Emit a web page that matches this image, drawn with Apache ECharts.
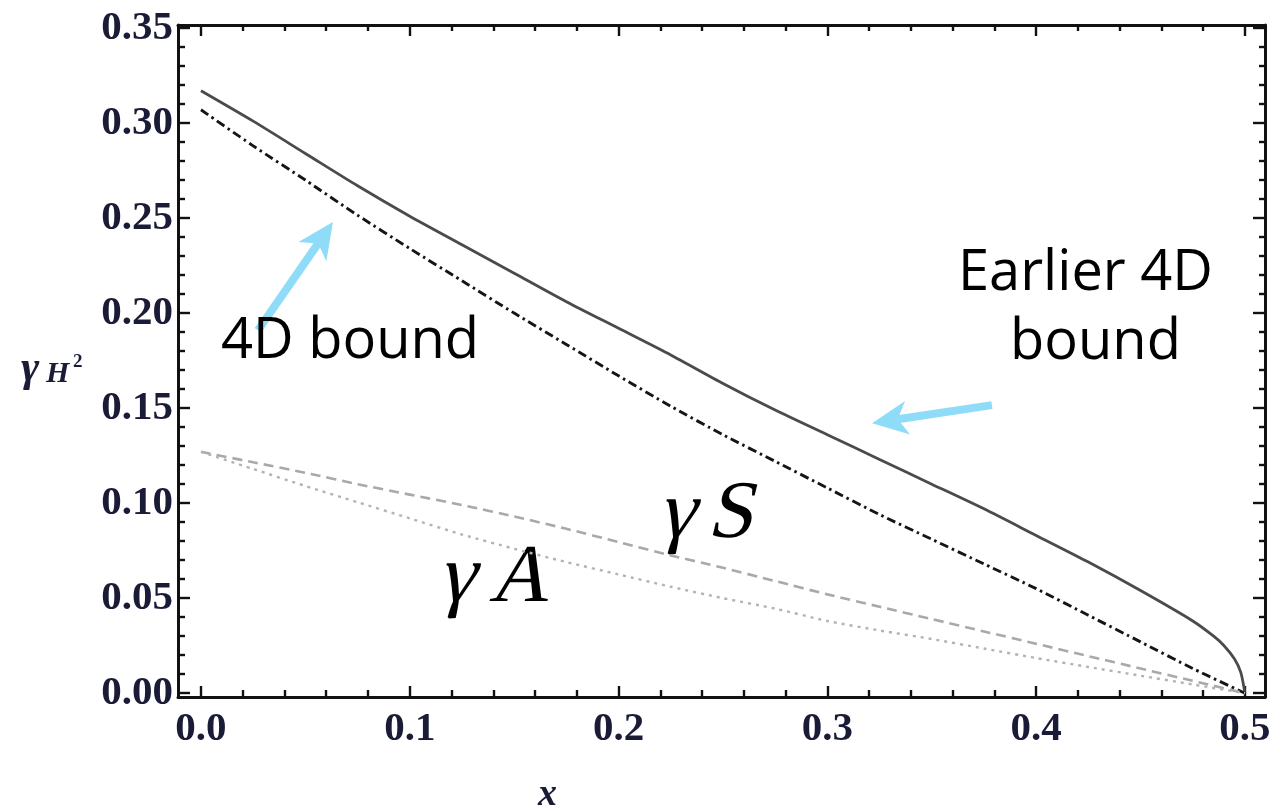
<!DOCTYPE html>
<html>
<head>
<meta charset="utf-8">
<title>γ bounds vs x</title>
<script src="https://cdn.jsdelivr.net/npm/echarts@6/dist/echarts.min.js"></script>
<style>
  html, body { margin: 0; padding: 0; background: #ffffff; }
  #chart { width: 1276px; height: 811px; }
</style>
</head>
<body>
<div id="chart"></div>
<script>
// Sample positions along x
const xGrid = [0, 0.025, 0.05, 0.075, 0.1, 0.125, 0.15, 0.175, 0.2, 0.225, 0.25,
               0.275, 0.3, 0.325, 0.35, 0.375, 0.4, 0.425, 0.45, 0.475, 0.5];
const xEarlier = [0, 0.025, 0.05, 0.075, 0.1, 0.125, 0.15, 0.175, 0.2, 0.225, 0.25,
                  0.275, 0.3, 0.325, 0.35, 0.375, 0.4, 0.425, 0.45, 0.475, 0.485,
                  0.49, 0.495, 0.498, 0.5];

// Earlier 4D bound (solid)
const earlierBound = [0.317, 0.301, 0.284, 0.267, 0.251, 0.236, 0.221, 0.206, 0.192, 0.178, 0.163,
                      0.149, 0.136, 0.123, 0.110, 0.097, 0.083, 0.069, 0.054, 0.038, 0.030,
                      0.025, 0.018, 0.011, 0.0];
// 4D bound (dash-dot)
const bound4D = [0.307, 0.288, 0.270, 0.2515, 0.234, 0.217, 0.200, 0.1835, 0.167, 0.151, 0.136,
                 0.122, 0.108, 0.094, 0.081, 0.068, 0.055, 0.041, 0.027, 0.013, 0.0];
// γS (dashed)
const gammaS = [0.127, 0.1215, 0.116, 0.110, 0.1045, 0.099, 0.093, 0.0865, 0.0795, 0.0725, 0.066,
                0.059, 0.052, 0.0455, 0.039, 0.0325, 0.026, 0.0195, 0.013, 0.0065, 0.0];
// γA (dotted)
const gammaA = [0.127, 0.118, 0.109, 0.1005, 0.092, 0.0835, 0.076, 0.069, 0.0625, 0.056, 0.050,
                0.0445, 0.038, 0.033, 0.0285, 0.0235, 0.0185, 0.0138, 0.0092, 0.0046, 0.0];

// Tick positions
const xMajor = [0, 0.1, 0.2, 0.3, 0.4, 0.5];
const xMinor = [0.02, 0.04, 0.06, 0.08, 0.12, 0.14, 0.16, 0.18, 0.22, 0.24, 0.26, 0.28,
                0.32, 0.34, 0.36, 0.38, 0.42, 0.44, 0.46, 0.48];
const yMajor = [0, 0.05, 0.1, 0.15, 0.2, 0.25, 0.3, 0.35];
const yMinor = [0.01, 0.02, 0.03, 0.04, 0.06, 0.07, 0.08, 0.09, 0.11, 0.12, 0.13, 0.14,
                0.16, 0.17, 0.18, 0.19, 0.21, 0.22, 0.23, 0.24, 0.26, 0.27, 0.28, 0.29,
                0.31, 0.32, 0.33, 0.34];

const X_MIN = -0.011, X_MAX = 0.5096;
const Y_MIN = -0.002, Y_MAX = 0.3516;

const FRAME = '#111111';
const LABEL_COLOR = '#1a1b36';
const SERIF = '"Liberation Serif", "DejaVu Serif", serif';
const SANS = '"Open Sans", Lato, sans-serif';

function pairs(xs, ys) { return xs.map((x, i) => [x, ys[i]]); }

function axis(dim, position, ticks, len, opts) {
  const a = {
    type: 'value',
    position: position,
    min: dim === 'x' ? X_MIN : Y_MIN,
    max: dim === 'x' ? X_MAX : Y_MAX,
    axisLine: { show: !!opts.line, onZero: false, lineStyle: { color: FRAME, width: 3 } },
    axisTick: { show: true, inside: true, length: len, customValues: ticks,
                lineStyle: { color: FRAME, width: 2.4 } },
    axisLabel: { show: false },
    splitLine: { show: false },
    minorTick: { show: false },
    minorSplitLine: { show: false }
  };
  if (opts.labels) {
    a.axisLabel = {
      show: true,
      customValues: ticks,
      formatter: v => v.toFixed(dim === 'x' ? 1 : 2),
      color: LABEL_COLOR,
      fontFamily: SERIF,
      fontWeight: 'bold',
      fontSize: 41,
      margin: dim === 'x' ? 12 : 5
    };
  }
  return a;
}

const chart = echarts.init(document.getElementById('chart'), null, { renderer: 'canvas' });

const lineBase = { type: 'line', xAxisIndex: 0, yAxisIndex: 0, showSymbol: false, smooth: 0.25 };

chart.setOption({
  animation: false,
  backgroundColor: '#ffffff',
  grid: { left: 178, right: 11, top: 25, bottom: 114, containLabel: false, outerBoundsMode: 'none' },
  xAxis: [
    axis('x', 'bottom', xMajor, 11, { line: true, labels: true }),
    axis('x', 'bottom', xMinor, 7, {}),
    axis('x', 'top', xMajor, 11, { line: true }),
    axis('x', 'top', xMinor, 6, {})
  ],
  yAxis: [
    axis('y', 'left', yMajor, 12, { line: true, labels: true }),
    axis('y', 'left', yMinor, 7, {}),
    axis('y', 'right', yMajor, 12, { line: true }),
    axis('y', 'right', yMinor, 6, {})
  ],
  series: [
    Object.assign({}, lineBase, {
      name: 'Earlier 4D bound', data: pairs(xEarlier, earlierBound),
      lineStyle: { color: '#4b4b4b', width: 2.8 }
    }),
    Object.assign({}, lineBase, {
      name: '4D bound', data: pairs(xGrid, bound4D),
      lineStyle: { color: '#151515', width: 2.9, type: [9, 4, 2.5, 4] }
    }),
    Object.assign({}, lineBase, {
      name: 'γS', data: pairs(xGrid, gammaS),
      lineStyle: { color: '#a9a9a9', width: 2.6, type: [10, 6] }
    }),
    Object.assign({}, lineBase, {
      name: 'γA', data: pairs(xGrid, gammaA),
      lineStyle: { color: '#b3b3b3', width: 2.4, type: [3, 5] }
    })
  ]
});

// Annotation arrows, given in data coordinates [tail, tip]
const arrows = [
  { tail: [0.0273, 0.191], tip: [0.0632, 0.2479] },
  { tail: [0.3788, 0.1516], tip: [0.3214, 0.1421] }
];
const ARROW_COLOR = '#8fdcf8';

function arrowGraphics(a) {
  const t0 = chart.convertToPixel({ gridIndex: 0 }, a.tail);
  const t1 = chart.convertToPixel({ gridIndex: 0 }, a.tip);
  const dx = t1[0] - t0[0], dy = t1[1] - t0[1];
  const len = Math.hypot(dx, dy);
  const ux = dx / len, uy = dy / len;
  const nx = -uy, ny = ux;
  const L = 36, W = 17, notch = 0.72 * L;
  const bx = t1[0] - ux * L, by = t1[1] - uy * L;
  const mx = t1[0] - ux * notch, my = t1[1] - uy * notch;
  return [
    { type: 'line', silent: true,
      shape: { x1: t0[0], y1: t0[1], x2: mx, y2: my },
      style: { stroke: ARROW_COLOR, lineWidth: 8 } },
    { type: 'polygon', silent: true,
      shape: { points: [[t1[0], t1[1]], [bx + nx * W, by + ny * W], [mx, my], [bx - nx * W, by - ny * W]] },
      style: { fill: ARROW_COLOR } }
  ];
}

function txt(text, left, top, family, size, extra, elProps) {
  return Object.assign({
    type: 'text', left: left, top: top, silent: true,
    style: Object.assign({ text: text, fontFamily: family, fontSize: size, fill: '#000' }, extra || {})
  }, elProps || {});
}

// Slanted serif symbols for the curve names
const MATH = 'Liberation Serif';
const SLANT = { skewX: -0.24 };

const texts = [
  txt('4D bound', 221, 314, SANS, 56),
  txt('Earlier 4D', 958, 246, SANS, 56),
  txt('bound', 1010, 315, SANS, 56),
  txt('γ', 653, 474, MATH, 82, { fontWeight: 'normal' }, SLANT),
  txt('S', 702, 474, MATH, 82, { fontWeight: 'normal' }, SLANT),
  txt('γ', 433, 538, MATH, 82, { fontWeight: 'normal' }, SLANT),
  txt('A', 484, 538, MATH, 82, { fontWeight: 'normal' }, SLANT),
  // axis names
  txt('γ', 21, 348, SERIF, 44, { fontStyle: 'italic', fontWeight: 'bold', fill: LABEL_COLOR }),
  txt('H', 46, 359, SERIF, 30, { fontStyle: 'italic', fontWeight: 'bold', fill: LABEL_COLOR }),
  txt('2', 73, 353, SERIF, 19, { fontWeight: 'bold', fill: LABEL_COLOR }),
  txt('x', 538, 776, SERIF, 38, { fontStyle: 'italic', fontWeight: 'bold', fill: LABEL_COLOR })
];

let graphics = [];
arrows.forEach(a => { graphics = graphics.concat(arrowGraphics(a)); });
chart.setOption({ graphic: graphics.concat(texts) });
</script>
</body>
</html>
